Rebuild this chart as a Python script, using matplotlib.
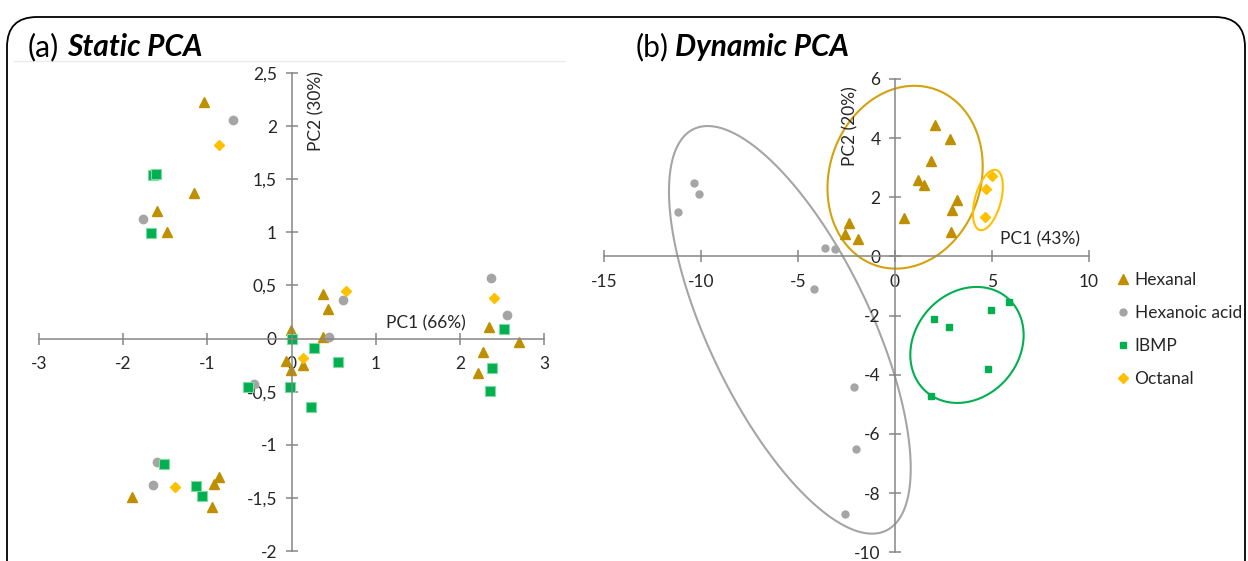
import numpy as np
import matplotlib.pyplot as plt
from matplotlib.patches import FancyBboxPatch, Polygon
from matplotlib.lines import Line2D

plt.rcParams['font.family'] = ['Lato', 'DejaVu Sans']

# ---- (a) Static PCA ----
hexanal_a_x = [-1.04, -1.16, -1.60, -1.48, -1.89, -0.86, -0.92, -0.95, 0.38, 0.43,
               -0.01, 0.37, 0.14, -0.06, -0.01, 2.35, 2.70, 2.27, 2.21]
hexanal_a_y = [2.23, 1.37, 1.20, 1.00, -1.49, -1.30, -1.37, -1.59, 0.42, 0.28,
               0.08, 0.01, -0.25, -0.21, -0.30, 0.11, -0.03, -0.13, -0.32]
acid_a_x = [-0.70, -1.77, -1.60, -1.64, -0.44, 0.61, 0.45, 2.37, 2.56]
acid_a_y = [2.06, 1.13, -1.16, -1.38, -0.43, 0.36, 0.01, 0.57, 0.22]
ibmp_a_x = [-1.65, -1.61, -1.67, -1.52, -1.13, -1.06, -0.52, 0.0, -0.02, 0.27,
            0.55, 0.23, 2.52, 2.38, 2.36]
ibmp_a_y = [1.54, 1.55, 0.99, -1.18, -1.39, -1.48, -0.46, 0.0, -0.46, -0.09,
            -0.22, -0.64, 0.09, -0.28, -0.49]
octanal_a_x = [-0.86, -1.39, 0.65, 0.14, 2.40]
octanal_a_y = [1.82, -1.40, 0.45, -0.18, 0.38]

xticks_a = [-3, -2, -1, 0, 1, 2, 3]
xlabels_a = ['-3', '-2', '-1', '0', '1', '2', '3']
yticks_a = [-2, -1.5, -1, -0.5, 0, 0.5, 1, 1.5, 2, 2.5]
ylabels_a = ['-2', '-1,5', '-1', '-0,5', '0', '0,5', '1', '1,5', '2', '2,5']

# ---- (b) Dynamic PCA ----
hexanal_b_x = [2.06, 2.83, 1.88, 1.18, 1.49, 3.19, 2.95, 0.45, 2.87, -2.37, -2.59, -1.90]
hexanal_b_y = [4.45, 3.98, 3.23, 2.57, 2.41, 1.92, 1.58, 1.30, 0.82, 1.13, 0.76, 0.59]
acid_b_x = [-10.36, -10.09, -11.17, -3.63, -3.07, -4.17, -2.11, -2.02, -2.59]
acid_b_y = [2.48, 2.12, 1.49, 0.28, 0.24, -1.09, -4.41, -6.50, -8.69]
ibmp_b_x = [1.99, 2.78, 4.96, 5.87, 4.81, 1.87]
ibmp_b_y = [-2.12, -2.40, -1.80, -1.55, -3.80, -4.70]
octanal_b_x = [4.99, 4.70, 4.62]
octanal_b_y = [2.73, 2.28, 1.33]

xticks_b = [-15, -10, -5, 0, 5, 10]
yticks_b = [-10, -8, -6, -4, -2, 0, 2, 4, 6]

# group ellipses: centre x, centre y, half-width, half-height, tilt (correlation)
ell_cx = [-5.42, 0.52, 4.79, 3.71]
ell_cy = [-2.48, 2.68, 1.91, -2.99]
ell_rx = [6.23, 4.00, 0.77, 2.92]
ell_ry = [6.89, 3.09, 1.02, 1.96]
ell_rho = [-0.68, 0.12, 0.45, 0.17]
ell_col = ['#A5A5A5', '#D4A20C', '#FFC000', '#00B050']

C_HEX = '#BF8F00'
C_ACID = '#A5A5A5'
C_IBMP = '#00B050'
C_OCT = '#FFC000'
AXC = '#868686'
TXT = '#262626'
FS = 12.5
TFS = 21.5

fig = plt.figure(figsize=(12.48, 5.61), dpi=100)


def style_axes(ax, xt, xl, yt, yl):
    for s in ['top', 'right']:
        ax.spines[s].set_visible(False)
    ax.spines['left'].set_position(('data', 0))
    ax.spines['bottom'].set_position(('data', 0))
    for s in ['left', 'bottom']:
        ax.spines[s].set_color(AXC)
        ax.spines[s].set_linewidth(1.1)
    ax.set_xticks(xt)
    ax.set_xticklabels(xl)
    ax.set_yticks(yt)
    ax.set_yticklabels(yl)
    ax.tick_params(direction='inout', length=9, width=1.1, color=AXC,
                   labelsize=FS, labelcolor=TXT)
    ax.tick_params(axis='x', pad=8)
    ax.tick_params(axis='y', pad=6)
    ax.patch.set_visible(False)


# faint plot-area line under the left title
fig.add_artist(Line2D([14 / 1248, 565 / 1248], [1 - 61 / 561, 1 - 61 / 561],
                      color='#EBEBEB', lw=1))

# panel a
ax1 = fig.add_axes([39 / 1248, 10 / 561, 505 / 1248, 478 / 561])
ax1.set_xlim(-3, 3)
ax1.set_ylim(-2, 2.5)
style_axes(ax1, xticks_a, xlabels_a, yticks_a, ylabels_a)
ax1.plot(hexanal_a_x, hexanal_a_y, '^', color=C_HEX, ms=7.5, mec=C_HEX, clip_on=False)
ax1.plot(acid_a_x, acid_a_y, 'o', color=C_ACID, ms=6, mec=C_ACID, clip_on=False)
ax1.plot(ibmp_a_x, ibmp_a_y, 's', color=C_IBMP, ms=7.5, mec='#7fd9a0', mew=0.8, clip_on=False)
ax1.plot(octanal_a_x, octanal_a_y, 'D', color=C_OCT, ms=5, mec=C_OCT, clip_on=False)
ax1.text(1.6, 0.07, 'PC1 (66%)', ha='center', va='bottom', fontsize=FS, color=TXT)
ax1.text(0.3, 2.14, 'PC2 (30%)', ha='center', va='center', rotation=90,
         fontsize=FS, color=TXT)

# panel b
ax2 = fig.add_axes([604 / 1248, 8.7 / 561, 485 / 1248, 473.3 / 561])
ax2.set_xlim(-15, 10)
ax2.set_ylim(-10, 6)
style_axes(ax2, xticks_b, [str(v) for v in xticks_b], yticks_b, [str(v) for v in yticks_b])

t = np.linspace(0, 2 * np.pi, 300, endpoint=False)
for cx, cy, rx, ry, rho, col in zip(ell_cx, ell_cy, ell_rx, ell_ry, ell_rho, ell_col):
    ex = cx + rx * np.cos(t)
    ey = cy + ry * (rho * np.cos(t) + np.sqrt(1 - rho ** 2) * np.sin(t))
    ax2.add_patch(Polygon(np.column_stack([ex, ey]), closed=True, fill=False,
                          edgecolor=col, lw=1.5, clip_on=False))

h1, = ax2.plot(hexanal_b_x, hexanal_b_y, '^', color=C_HEX, ms=7, mec=C_HEX, label='Hexanal')
h2, = ax2.plot(acid_b_x, acid_b_y, 'o', color=C_ACID, ms=5, mec=C_ACID, label='Hexanoic acid')
h3, = ax2.plot(ibmp_b_x, ibmp_b_y, 's', color=C_IBMP, ms=5, mec=C_IBMP, label='IBMP')
h4, = ax2.plot(octanal_b_x, octanal_b_y, 'D', color=C_OCT, ms=5.5, mec=C_OCT, label='Octanal')
ax2.text(7.5, 0.3, 'PC1 (43%)', ha='center', va='bottom', fontsize=FS, color=TXT)
ax2.text(-2.3, 4.4, 'PC2 (20%)', ha='center', va='center', rotation=90,
         fontsize=FS, color=TXT)

fig.legend(handles=[h1, h2, h3, h4], loc='upper left',
           bbox_to_anchor=(1112 / 1248, 1 - 269 / 561), frameon=False,
           fontsize=FS, labelspacing=0.97, handletextpad=0.2, handlelength=0.9,
           borderaxespad=0, borderpad=0.2, labelcolor=TXT)

# titles
fig.text(28 / 1248, 1 - 47 / 561, '(a)', fontsize=TFS, va='center', color='black')
fig.text(67 / 1248, 1 - 47 / 561, 'Static PCA', fontsize=TFS, va='center',
         fontweight='bold', fontstyle='italic', color='black')
fig.text(636 / 1248, 1 - 47 / 561, '(b)', fontsize=TFS, va='center', color='black')
fig.text(675 / 1248, 1 - 47 / 561, 'Dynamic PCA', fontsize=TFS, va='center',
         fontweight='bold', fontstyle='italic', color='black')

# rounded frame around the figure
frame = FancyBboxPatch((0.07, -0.3), 12.38, 5.74,
                       boxstyle='round,pad=0,rounding_size=0.3',
                       transform=fig.dpi_scale_trans, fill=False,
                       edgecolor='black', lw=1.3)
fig.patches.append(frame)

fig.savefig('out.png', dpi=100)
